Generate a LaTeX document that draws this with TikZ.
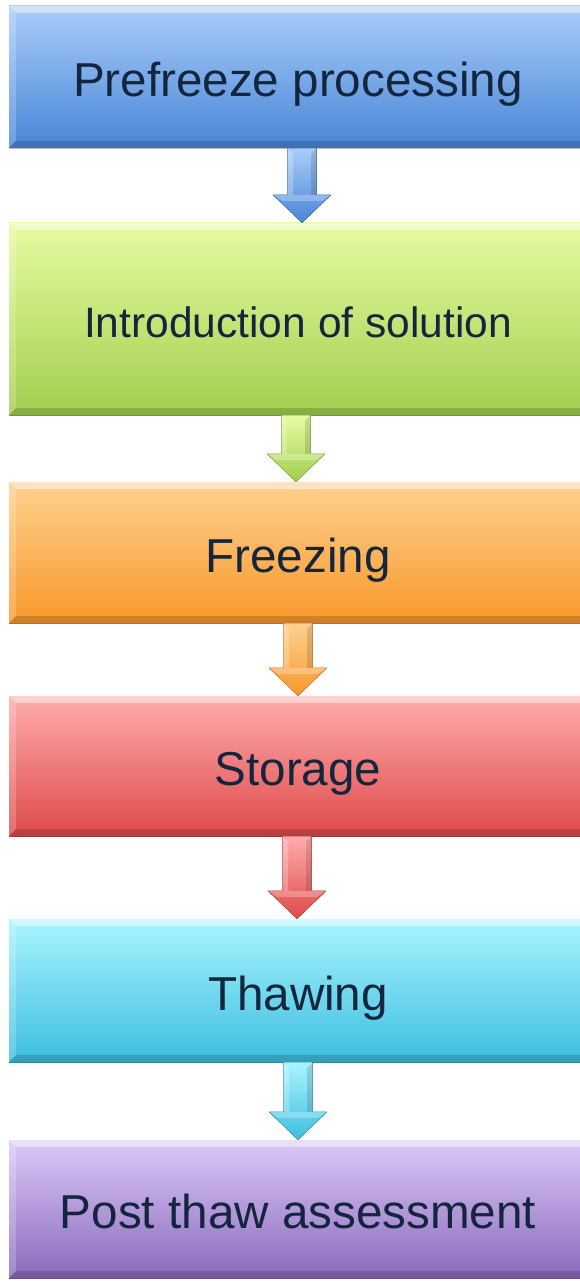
\documentclass[tikz,border=0pt]{standalone}
\usepackage{fontspec}
\setmainfont{Liberation Sans}
\usetikzlibrary{calc,backgrounds}

\definecolor{ink}{HTML}{14263E}
\definecolor{blueT}{HTML}{AACDFA}\definecolor{blueB}{HTML}{4886D6}
\definecolor{greenT}{HTML}{E6FCA2}\definecolor{greenB}{HTML}{A2CE4E}
\definecolor{orangeT}{HTML}{FED190}\definecolor{orangeB}{HTML}{F8982A}
\definecolor{redT}{HTML}{FFACAC}\definecolor{redB}{HTML}{DE4A4A}
\definecolor{cyanT}{HTML}{AAF4FF}\definecolor{cyanB}{HTML}{3DBEDF}
\definecolor{purpleT}{HTML}{DCC8F8}\definecolor{purpleB}{HTML}{8A6ABD}

\tikzset{
  stagebox/.style n args={3}{minimum width=578pt, minimum height=#1, inner sep=0pt,
    text=ink, top color=#2, bottom color=#3, middle color=#2!50!#3,
    font=\fontsize{47.6}{56}\selectfont, text height=39pt, text depth=0pt},
  smalltext/.style={font=\fontsize{42.5}{50}\selectfont, text height=36.4pt},
}

% soft shadow and bevelled edges around a stage box
\newcommand\stagedeco[1]{%
  \begin{scope}[on background layer]
    \foreach \d/\o in {1/0.10,2.5/0.08,4/0.06,5.5/0.04}{
      \fill[black,opacity=\o] ([shift={(-1pt,-\d pt)}]#1.south west) rectangle ([shift={(1pt,-\d pt)}]#1.north east);
    }
  \end{scope}
  \fill[white,opacity=.45] (#1.north west) -- (#1.north east) -- ([shift={(-7pt,-7pt)}]#1.north east) -- ([shift={(7pt,-7pt)}]#1.north west) -- cycle;
  \fill[white,opacity=.2] (#1.north west) -- ([shift={(7pt,-7pt)}]#1.north west) -- ([shift={(7pt,7pt)}]#1.south west) -- (#1.south west) -- cycle;
  \fill[black,opacity=.16] (#1.south west) -- ([shift={(7pt,7pt)}]#1.south west) -- ([shift={(-7pt,7pt)}]#1.south east) -- (#1.south east) -- cycle;
  \draw[black,opacity=.25,line width=0.6pt] (#1.south west) -- (#1.south east);
}

% block arrow from the bottom of one box to the top of the next
\newcommand\flowarrow[5]{%
  \path[top color=#4, bottom color=#5, draw=#5!75!black, line width=0.5pt, line join=round]
    let \p1=(#1.south), \p2=(#2.north) in
    (\x1+#3-14.5pt,\y1) -- (\x1+#3+14.5pt,\y1) -- (\x1+#3+14.5pt,\y2+28pt)
    -- (\x1+#3+29pt,\y2+28pt) -- (\x1+#3,\y2) -- (\x1+#3-29pt,\y2+28pt)
    -- (\x1+#3-14.5pt,\y2+28pt) -- cycle;
  \path[fill=white,opacity=.25]
    let \p1=(#1.south), \p2=(#2.north) in
    (\x1+#3-14.5pt,\y1) -- (\x1+#3-9pt,\y1-6pt) -- (\x1+#3-9pt,\y2+28pt) -- (\x1+#3-14.5pt,\y2+28pt) -- cycle
    (\x1+#3-29pt,\y2+28pt) -- (\x1+#3+29pt,\y2+28pt) -- (\x1+#3+20pt,\y2+22pt) -- (\x1+#3-20pt,\y2+22pt) -- cycle;
  \path[fill=black,opacity=.12]
    let \p1=(#1.south), \p2=(#2.north) in
    (\x1+#3+14.5pt,\y1) -- (\x1+#3+9pt,\y1-6pt) -- (\x1+#3+9pt,\y2+28pt) -- (\x1+#3+14.5pt,\y2+28pt) -- cycle;
}

\begin{document}
\begin{tikzpicture}[x=1pt,y=-1pt]
  \useasboundingbox (0,0) rectangle (580,1281);
  \clip (0,0) rectangle (580,1281);
  \fill[white] (0,0) rectangle (580,1281);

  \node[stagebox={142pt}{blueT}{blueB}]   (b1) at (298,77)    {Prefreeze processing};
  \node[stagebox={192pt}{greenT}{greenB}, smalltext] (b2) at (298,319) {Introduction of solution};
  \node[stagebox={141pt}{orangeT}{orangeB}] (b3) at (298,552.5) {Freezing};
  \node[stagebox={140pt}{redT}{redB}]     (b4) at (298,766)   {Storage};
  \node[stagebox={143pt}{cyanT}{cyanB}]   (b5) at (298,990.5) {Thawing};
  \node[stagebox={138pt}{purpleT}{purpleB}] (b6) at (298,1209) {Post thaw assessment};

  \foreach \b in {b1,b2,b3,b4,b5,b6}{\stagedeco{\b}}

  \flowarrow{b1}{b2}{4pt}{blueT}{blueB}
  \flowarrow{b2}{b3}{-2pt}{greenT}{greenB}
  \flowarrow{b3}{b4}{0pt}{orangeT}{orangeB}
  \flowarrow{b4}{b5}{-1pt}{redT}{redB}
  \flowarrow{b5}{b6}{0pt}{cyanT}{cyanB}
\end{tikzpicture}
\end{document}
